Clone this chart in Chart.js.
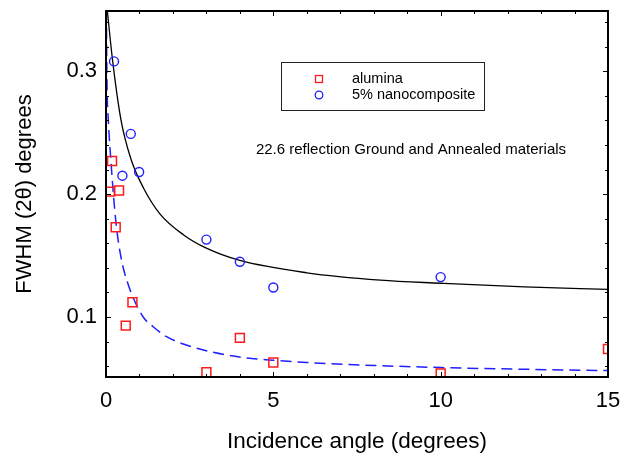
<!DOCTYPE html>
<html>
<head>
<meta charset="utf-8">
<script src="https://cdn.jsdelivr.net/npm/chart.js@4.4.1/dist/chart.umd.min.js"></script>
<style>
  body { margin: 0; background: #fff; }
  #wrap { width: 627px; height: 459px; }
</style>
</head>
<body>
<div id="wrap"><canvas id="fwhmChart" width="627" height="459"></canvas></div>
<script>
// measured points
const aluminaX = [0.12, 0.18, 0.29, 0.39, 0.59, 0.79, 3, 4, 5, 10, 15];
const aluminaY = [0.202, 0.227, 0.173, 0.203, 0.093, 0.112, 0.055, 0.083, 0.063, 0.054, 0.074];
const nanoX = [0.24, 0.49, 0.74, 0.99, 3, 4, 5, 10];
const nanoY = [0.308, 0.215, 0.249, 0.218, 0.163, 0.145, 0.124, 0.1325];
// fitted curves
const fitNanoX = [0.04, 0.2, 0.45, 0.74, 1.12, 1.61, 2.31, 3, 4, 6, 8.2, 10, 12.5, 15];
const fitNanoY = [0.349, 0.308, 0.26, 0.229, 0.205, 0.184, 0.167, 0.156, 0.146, 0.136, 0.130, 0.1275, 0.1245, 0.1225];
const fitAlumX = [0.01, 0.03, 0.07, 0.15, 0.22, 0.29, 0.35, 0.49, 0.62, 0.8, 1.11, 1.41, 1.81, 2.31, 2.91, 3.61, 4.3, 5, 6, 8, 10, 12.5, 15];
const fitAlumY = [0.349, 0.29, 0.26, 0.226, 0.200, 0.179, 0.165, 0.143, 0.130, 0.1165, 0.100, 0.0921, 0.084, 0.078, 0.0732, 0.0691, 0.0664, 0.0648, 0.063, 0.0606, 0.0589, 0.0575, 0.0564];
// axes
const xTicks = [0, 5, 10, 15];
const yTicks = [0.1, 0.2, 0.3];
const xMinor = [1, 2, 3, 4, 6, 7, 8, 9, 11, 12, 13, 14];
const yMinor = [0.06, 0.08, 0.12, 0.14, 0.16, 0.18, 0.22, 0.24, 0.26, 0.28, 0.32, 0.34];
const seriesNames = ['alumina', '5% nanocomposite'];
const noteText = '22.6 reflection Ground and Annealed materials';

const RED = '#ff1a1a', BLUE = '#1f1fff';
const FONT = '"Liberation Sans", Arial, sans-serif';
Chart.defaults.font.family = FONT;
Chart.defaults.color = '#000';

const pts = (xs, ys) => xs.map((x, i) => ({ x: x, y: ys[i] }));

// frame, inward ticks, legend box and note
const framePlugin = {
    id: 'frame',
    afterDraw(chart) {
        const { ctx, chartArea: a, scales: { x, y } } = chart;
        ctx.save();
        ctx.strokeStyle = '#000';
        ctx.lineWidth = 2;
        ctx.strokeRect(a.left, a.top, a.right - a.left, a.bottom - a.top);
        ctx.lineWidth = 1;
        ctx.beginPath();
        const tick = (vals, len, horiz) => vals.forEach(v => {
            if (horiz) {
                const px = Math.round(x.getPixelForValue(v)) + 0.5;
                ctx.moveTo(px, a.bottom); ctx.lineTo(px, a.bottom - len);
                ctx.moveTo(px, a.top); ctx.lineTo(px, a.top + len);
            } else {
                const py = Math.round(y.getPixelForValue(v)) + 0.5;
                ctx.moveTo(a.left, py); ctx.lineTo(a.left + len, py);
                ctx.moveTo(a.right, py); ctx.lineTo(a.right - len, py);
            }
        });
        tick(xTicks, 5, true); tick(xMinor, 3, true);
        tick(yTicks, 5, false); tick(yMinor, 3, false);
        ctx.stroke();

        // legend
        ctx.strokeStyle = '#222';
        ctx.strokeRect(281.5, 62.5, 203, 48);
        ctx.lineWidth = 1.3;
        ctx.strokeStyle = RED;
        ctx.strokeRect(315.5, 75.5, 7, 7);
        ctx.strokeStyle = BLUE;
        ctx.beginPath(); ctx.arc(319, 95, 3.8, 0, Math.PI * 2); ctx.stroke();
        ctx.fillStyle = '#000';
        ctx.font = '14.5px ' + FONT;
        ctx.textBaseline = 'middle';
        ctx.textAlign = 'left';
        ctx.fillText(seriesNames[0], 352, 79);
        ctx.fillText(seriesNames[1], 352, 95);

        ctx.font = '15px ' + FONT;
        ctx.textAlign = 'center';
        ctx.fillText(noteText, 411, 150);
        ctx.restore();
    }
};

new Chart(document.getElementById('fwhmChart').getContext('2d'), {
    type: 'scatter',
    data: {
        datasets: [
            { label: seriesNames[0], data: pts(aluminaX, aluminaY), pointStyle: 'rect', pointRadius: 6.3,
              borderColor: RED, backgroundColor: 'rgba(0,0,0,0)', borderWidth: 1.5, pointHoverRadius: 6.3 },
            { label: seriesNames[1], data: pts(nanoX, nanoY), pointStyle: 'circle', pointRadius: 4.5,
              borderColor: BLUE, backgroundColor: 'rgba(0,0,0,0)', borderWidth: 1.4, pointHoverRadius: 4.5 },
            { label: 'fit nano', data: pts(fitNanoX, fitNanoY), showLine: true, pointRadius: 0,
              borderColor: '#000', borderWidth: 1.3, cubicInterpolationMode: 'monotone' },
            { label: 'fit alumina', data: pts(fitAlumX, fitAlumY), showLine: true, pointRadius: 0,
              borderColor: BLUE, borderWidth: 1.5, borderDash: [11, 6], cubicInterpolationMode: 'monotone' }
        ]
    },
    options: {
        responsive: false,
        animation: false,
        layout: { padding: { top: 11, right: 19, left: 0, bottom: 0 } },
        plugins: { legend: { display: false }, tooltip: { enabled: false } },
        scales: {
            x: {
                type: 'linear', min: 0, max: 15,
                afterBuildTicks: s => { s.ticks = xTicks.map(v => ({ value: v })); },
                afterFit: s => { s.height = 82; s.paddingLeft = 0; s.paddingRight = 0; },
                grid: { display: false }, border: { display: false },
                ticks: { font: { size: 22 }, color: '#000', padding: 3, maxRotation: 0 },
                title: { display: true, text: 'Incidence angle (degrees)', font: { size: 22.5 }, color: '#000',
                         padding: { top: 0, bottom: 4 } }
            },
            y: {
                type: 'linear', min: 0.0512, max: 0.349,
                afterBuildTicks: s => { s.ticks = yTicks.map(v => ({ value: v })); },
                afterFit: s => { s.width = 106; s.paddingTop = 0; s.paddingBottom = 0; },
                grid: { display: false }, border: { display: false },
                ticks: { font: { size: 22 }, color: '#000', padding: 1, callback: v => v.toFixed(1) },
                title: { display: true, text: 'FWHM (2θ) degrees', font: { size: 22 }, color: '#000',
                         padding: { top: 12, bottom: 0 } }
            }
        }
    },
    plugins: [framePlugin]
});
</script>
</body>
</html>
